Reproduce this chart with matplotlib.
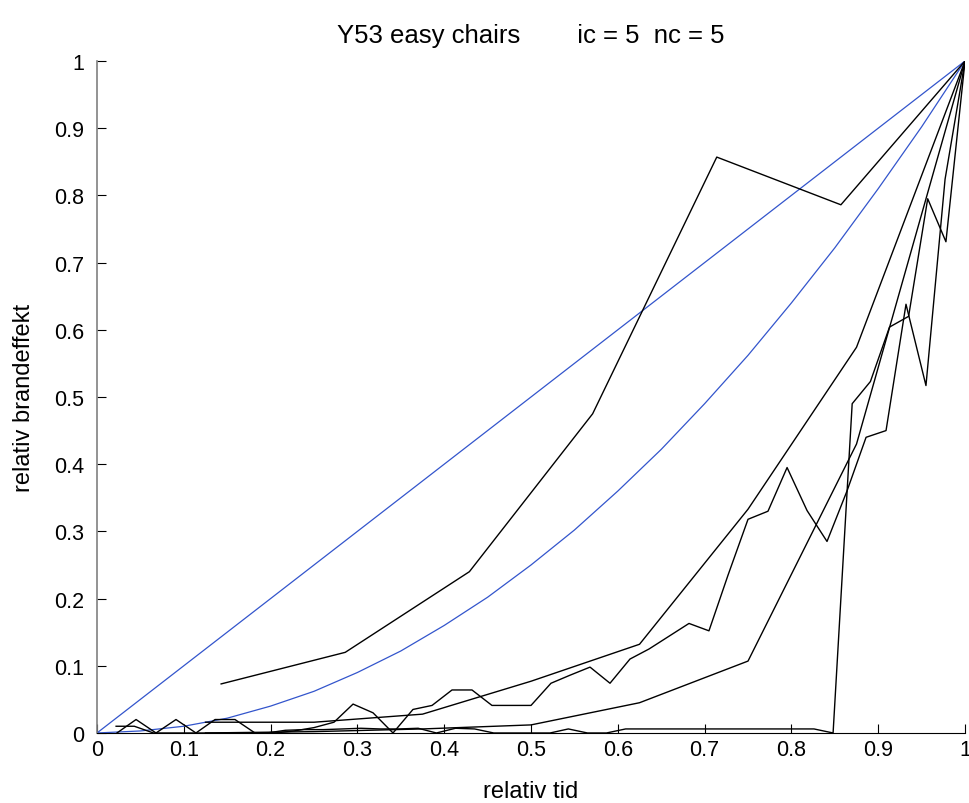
import matplotlib
matplotlib.use("Agg")
import matplotlib.pyplot as plt

plt.rcParams['font.family'] = ['Liberation Sans', 'DejaVu Sans']

# ---- data ----
# reference (fitted) curves
blue_t = [0.0, 0.05, 0.1, 0.15, 0.2, 0.25, 0.3, 0.35, 0.4, 0.45, 0.5,
          0.55, 0.6, 0.65, 0.7, 0.75, 0.8, 0.85, 0.9, 0.95, 1.0]
blue_upper = [0.0, 0.05, 0.1, 0.15, 0.2, 0.25, 0.3, 0.35, 0.4, 0.45, 0.5,
              0.55, 0.6, 0.65, 0.7, 0.75, 0.8, 0.85, 0.9, 0.95, 1.0]
blue_lower = [0.0, 0.003, 0.01, 0.022, 0.04, 0.062, 0.09, 0.122, 0.16, 0.202, 0.25,
              0.302, 0.36, 0.422, 0.49, 0.562, 0.64, 0.722, 0.81, 0.902, 1.0]

# test series (relative time, relative heat release)
a_t = [0.143, 0.286, 0.429, 0.571, 0.714, 0.857, 1.0]
a_y = [0.073, 0.12, 0.24, 0.475, 0.857, 0.786, 1.0]

b_t = [0.125, 0.25, 0.375, 0.5, 0.625, 0.75, 0.875, 1.0]
b_y = [0.016, 0.016, 0.028, 0.077, 0.132, 0.333, 0.574, 1.0]

c_t = [0.125, 0.25, 0.375, 0.5, 0.625, 0.75, 0.875, 1.0]
c_y = [0.0, 0.002, 0.006, 0.012, 0.045, 0.107, 0.43, 1.0]

d_t = [0.023, 0.045, 0.068, 0.091, 0.114, 0.136, 0.159, 0.182, 0.205, 0.227,
       0.25, 0.273, 0.295, 0.318, 0.341, 0.364, 0.386, 0.409, 0.432, 0.455,
       0.477, 0.5, 0.523, 0.545, 0.568, 0.591, 0.614, 0.636, 0.659, 0.682,
       0.705, 0.727, 0.75, 0.773, 0.795, 0.818, 0.841, 0.864, 0.886, 0.909,
       0.932, 0.955, 0.977, 1.0]
d_y = [0.0, 0.02, 0.0, 0.02, 0.0, 0.02, 0.02, 0.0, 0.0, 0.003,
       0.008, 0.016, 0.043, 0.03, 0.0, 0.035, 0.041, 0.064, 0.064, 0.041,
       0.041, 0.041, 0.074, 0.086, 0.098, 0.074, 0.11, 0.125, 0.144, 0.163,
       0.152, 0.235, 0.318, 0.33, 0.395, 0.331, 0.285, 0.36, 0.44, 0.45,
       0.638, 0.517, 0.824, 1.0]

e_t = [0.022, 0.043, 0.065, 0.087, 0.109, 0.13, 0.152, 0.174, 0.196, 0.217,
       0.239, 0.261, 0.283, 0.304, 0.326, 0.348, 0.37, 0.391, 0.413, 0.435,
       0.457, 0.478, 0.5, 0.522, 0.543, 0.565, 0.587, 0.609, 0.63, 0.652,
       0.674, 0.696, 0.717, 0.739, 0.761, 0.783, 0.804, 0.826, 0.848, 0.87,
       0.891, 0.913, 0.935, 0.957, 0.978, 1.0]
e_y = [0.01, 0.01, 0.0, 0.0, 0.0, 0.0, 0.0, 0.0, 0.0, 0.004,
       0.005, 0.005, 0.006, 0.007, 0.006, 0.006, 0.007, 0.0, 0.007, 0.006,
       0.0, 0.0, 0.0, 0.0, 0.006, 0.0, 0.0, 0.006, 0.006, 0.006,
       0.006, 0.006, 0.006, 0.006, 0.006, 0.006, 0.006, 0.006, 0.0, 0.49,
       0.523, 0.604, 0.62, 0.795, 0.731, 1.0]

ticks = [0, 0.1, 0.2, 0.3, 0.4, 0.5, 0.6, 0.7, 0.8, 0.9, 1]
tick_labels = ['0', '0.1', '0.2', '0.3', '0.4', '0.5', '0.6', '0.7', '0.8', '0.9', '1']

title = 'Y53 easy chairs        ic = 5  nc = 5'
xlabel = 'relativ tid'
ylabel = 'relativ brandeffekt'

# ---- figure ----
fig = plt.figure(figsize=(9.69, 8.04), dpi=100)
ax = fig.add_axes([0.1001, 0.0871, 0.8958, 0.8358])

blue = '#3355cc'
ax.plot(blue_t, blue_upper, color=blue, lw=0.9)
ax.plot(blue_t, blue_lower, color=blue, lw=0.9)
for t, y in [(a_t, a_y), (b_t, b_y), (c_t, c_y), (d_t, d_y), (e_t, e_y)]:
    ax.plot(t, y, color='black', lw=1.0)

ax.set_xlim(0, 1)
ax.set_ylim(0, 1)
ax.set_xticks(ticks)
ax.set_xticklabels(tick_labels)
ax.set_yticks(ticks)
ax.set_yticklabels(tick_labels)
ax.tick_params(direction='in', length=6.5, width=0.8, labelsize=15.5)
ax.tick_params(axis='x', pad=4)
ax.tick_params(axis='y', pad=9)
ax.spines['top'].set_visible(False)
ax.spines['right'].set_visible(False)
ax.spines['left'].set_color('#808080')
ax.spines['left'].set_linewidth(1.2)
ax.spines['bottom'].set_color('black')

ax.set_title(title, fontsize=18.5, pad=14)
ax.set_xlabel(xlabel, fontsize=17)
ax.set_ylabel(ylabel, fontsize=17)
ax.xaxis.set_label_coords(0.5, -0.07)
ax.yaxis.set_label_coords(-0.071, 0.5)

fig.savefig('out.png', dpi=100)
